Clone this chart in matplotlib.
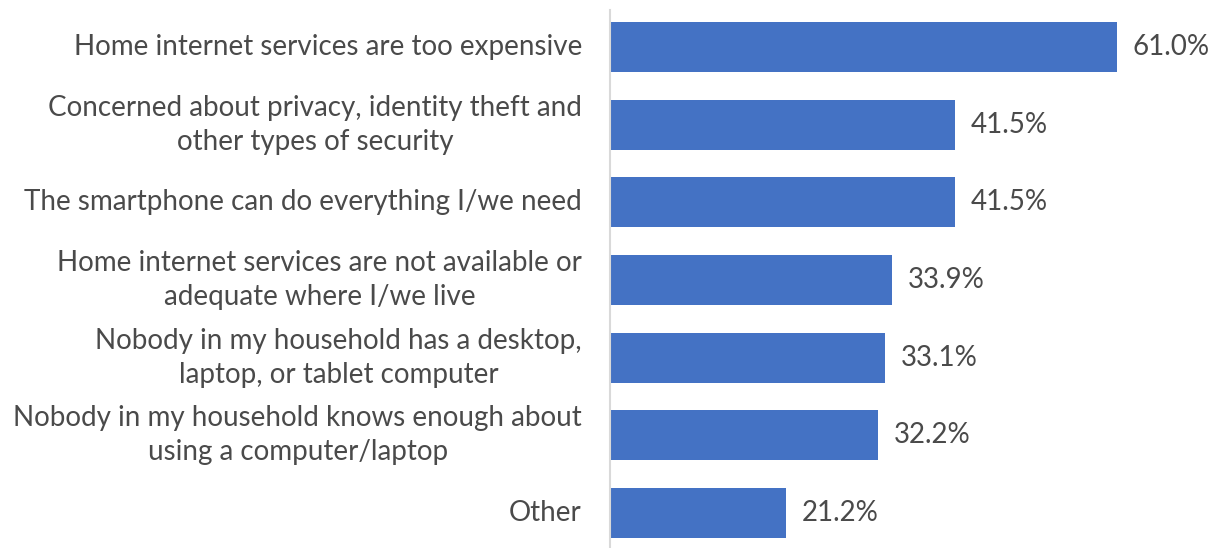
import matplotlib.pyplot as plt

categories = [
    "Home internet services are too expensive",
    "Concerned about privacy, identity theft and\nother types of security",
    "The smartphone can do everything I/we need",
    "Home internet services are not available or\nadequate where I/we live",
    "Nobody in my household has a desktop,\nlaptop, or tablet computer",
    "Nobody in my household knows enough about\nusing a computer/laptop",
    "Other",
]
values = [61.0, 41.5, 41.5, 33.9, 33.1, 32.2, 21.2]

plt.rcParams['font.family'] = ['Lato', 'DejaVu Sans']
text_color = '#4a4a4a'

W, H = 1217, 548
fig = plt.figure(figsize=(W / 100, H / 100), dpi=100)
ax = fig.add_axes([610 / W, 0, 607 / W, 538 / H])

y = list(range(len(values)))
ax.barh(y, values, height=0.645, color='#4472C4')
ax.set_xlim(0, 607 / 8.31)
ax.set_ylim(6.45, -0.476)

for yi, v in zip(y, values):
    ax.text(v + 1.9, yi, f"{v:.1f}%", va='center', ha='left', fontsize=20, color=text_color)

for yi, c in zip(y, categories):
    fig.text(582 / W, 1 - (47 + yi * 77.67) / H, c, ha='right', va='center',
             multialignment='center', fontsize=20, color=text_color, linespacing=1.38)

for s in ['top', 'right', 'bottom']:
    ax.spines[s].set_visible(False)
ax.spines['left'].set_color('#d9d9d9')
ax.spines['left'].set_linewidth(1.5)
ax.set_xticks([])
ax.set_yticks([])

fig.savefig('out.png', dpi=100)
